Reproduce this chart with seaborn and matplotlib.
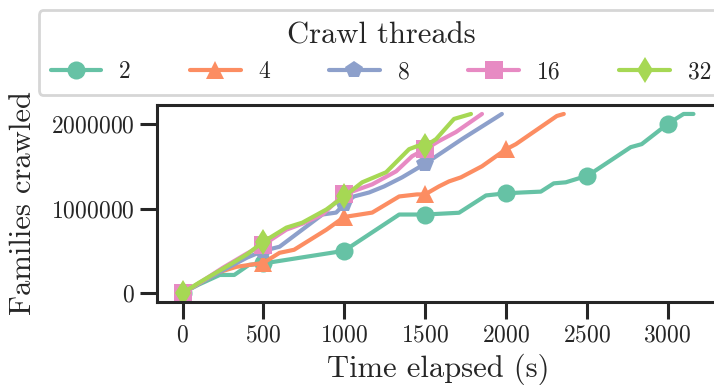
import numpy as np
import pandas as pd
import matplotlib
matplotlib.use("Agg")
import matplotlib.pyplot as plt
import seaborn as sns

threads = ["2", "4", "8", "16", "32"]
markers = ["o", "^", "p", "s", "d"]

t_2 = [0, 100, 230, 320, 410, 500, 1000, 1340, 1500, 1710, 1877, 2000, 2100, 2216, 2296, 2370, 2450, 2500, 2772, 2840, 3000, 3099, 3160]
v_2 = [0, 100, 214, 214, 333, 350, 500, 929, 929, 950, 1155, 1180, 1190, 1200, 1298, 1310, 1357, 1381, 1726, 1762, 2000, 2119, 2119]

t_4 = [0, 100, 230, 333, 500, 600, 690, 890, 1000, 1173, 1340, 1450, 1500, 1586, 1648, 1722, 1852, 2000, 2062, 2315, 2358]
v_4 = [0, 110, 250, 310, 357, 476, 512, 750, 900, 952, 1143, 1167, 1167, 1262, 1321, 1369, 1500, 1700, 1762, 2095, 2119]

t_8 = [0, 100, 250, 400, 500, 600, 865, 950, 1000, 1060, 1154, 1247, 1358, 1500, 1728, 1975]
v_8 = [0, 110, 270, 420, 500, 548, 929, 952, 1050, 1143, 1190, 1262, 1369, 1530, 1821, 2119]

t_16 = [0, 100, 250, 400, 500, 642, 741, 865, 1000, 1173, 1321, 1420, 1500, 1586, 1691, 1852]
v_16 = [0, 115, 300, 470, 571, 750, 820, 929, 1167, 1286, 1440, 1619, 1700, 1798, 1905, 2119]

t_32 = [0, 100, 290, 400, 500, 642, 741, 889, 1000, 1111, 1259, 1401, 1450, 1500, 1568, 1679, 1784]
v_32 = [0, 120, 333, 460, 607, 774, 833, 988, 1143, 1310, 1429, 1702, 1738, 1738, 1821, 2060, 2119]

times = [t_2, t_4, t_8, t_16, t_32]
values = [v_2, v_4, v_8, v_16, v_32]

sns.set_theme(style="ticks")
plt.rcParams["font.family"] = ["cmr10", "DejaVu Serif"]
plt.rcParams["mathtext.fontset"] = "cm"
plt.rcParams["axes.formatter.use_mathtext"] = True
plt.rcParams["axes.unicode_minus"] = False

palette = sns.color_palette("Set2", 5)

fig = plt.figure(figsize=(7.14, 3.85), dpi=100)
ax = fig.add_axes([157 / 714, 83 / 385, 562 / 714, 197 / 385])

for name, mk, col, t, v in zip(threads, markers, palette, times, values):
    df = pd.DataFrame({"t": t, "v": np.array(v) * 1000})
    idx = [i for i, tt in enumerate(t) if tt % 500 == 0]
    sns.lineplot(data=df, x="t", y="v", ax=ax, color=col, marker=mk,
                 markevery=idx, markersize=13, markeredgewidth=0,
                 linewidth=3, label=name, legend=False)

ax.set_xticks([0, 500, 1000, 1500, 2000, 2500, 3000])
ax.set_yticks([0, 1000000, 2000000])
ax.ticklabel_format(axis="y", style="plain")
ax.set_xlabel("Time elapsed (s)", fontsize=22, labelpad=5)
ax.set_ylabel("Families crawled", fontsize=22, labelpad=10)
ax.tick_params(axis="both", labelsize=17, length=12.5, width=2.2, color="#262626")
for s in ax.spines.values():
    s.set_linewidth(2.2)
    s.set_color("#262626")

handles, labels = ax.get_legend_handles_labels()
leg = fig.legend(handles, labels, title="Crawl threads", ncol=5,
                 loc="upper center", bbox_to_anchor=(381 / 714, 1 - 10 / 385),
                 bbox_transform=fig.transFigure, fontsize=17, title_fontsize=22,
                 frameon=True, fancybox=True, columnspacing=2.5, handlelength=2.15,
                 handletextpad=0.75, borderpad=0.5, borderaxespad=0)
leg.get_frame().set_edgecolor("#cccccc")
leg.get_frame().set_linewidth(2)

fig.savefig("out.png", dpi=100)
